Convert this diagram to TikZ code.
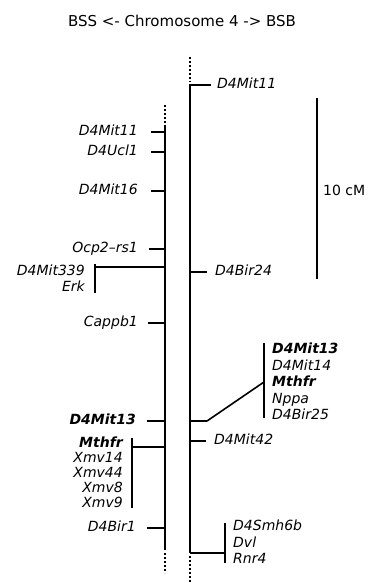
\documentclass[tikz,border=0pt]{standalone}
\usepackage{fontspec}
\setmainfont{DejaVu Sans}
\usetikzlibrary{positioning, calc}

\begin{document}
\begin{tikzpicture}[
    x=1pt, y=-1pt,
    chrom/.style={line width=1.7pt},
    cont/.style={line width=1.9pt, dash pattern=on 1.8pt off 2.2pt},
    tickline/.style={line width=1.6pt},
    locus/.style={inner sep=0pt, text height=0.73em, text depth=0pt, font=\fontsize{14}{16}\selectfont\itshape},
    lleft/.style={locus, anchor=east},
    lright/.style={locus, anchor=west}
]
\useasboundingbox (0,0) rectangle (371,583);

% TITLE
\node[font=\fontsize{15}{18}\selectfont] (title) at (182,21) {BSS <- Chromosome 4 -> BSB};

% CHROMOSOME BSS (left)
\coordinate (Ltop) at (165,127);
\coordinate (Lbot) at (165,550);
\coordinate (Lup) at (165,105);
\coordinate (Ldown) at (165,573);
\draw[chrom] (Ltop) -- (Lbot);
\draw[cont] (Lup) -- (Ltop);
\draw[cont] ([yshift=-3pt]Lbot) -- (Ldown);

\node[lleft] (lMit11) at (138,132) {D4Mit11};
\node[lleft] (lUcl1) at (138,152) {D4Ucl1};
\node[lleft] (lMit16) at (138,191) {D4Mit16};
\node[lleft] (lOcp2) at (138,249) {Ocp2–rs1};
\node[lleft] (lCappb1) at (138,323) {Cappb1};
\node[lleft, font=\fontsize{14}{16}\selectfont\bfseries\itshape] (lMit13) at (136,421) {D4Mit13};
\node[lleft] (lBir1) at (136,528) {D4Bir1};

\draw[tickline] ([xshift=13pt]lMit11.east) -- (lMit11.east -| Ltop);
\draw[tickline] ([xshift=13pt]lUcl1.east) -- (lUcl1.east -| Ltop);
\draw[tickline] ([xshift=13pt]lMit16.east) -- (lMit16.east -| Ltop);
\draw[tickline] ([xshift=11pt]lOcp2.east) -- (lOcp2.east -| Ltop);
\draw[tickline] ([xshift=10pt]lCappb1.east) -- (lCappb1.east -| Ltop);
\draw[tickline] ([xshift=11pt]lMit13.east) -- (lMit13.east -| Ltop);
\draw[tickline] ([xshift=11pt]lBir1.east) -- (lBir1.east -| Ltop);

% group D4Mit339 / Erk
\node[lleft] (lMit339) at (85,272) {D4Mit339};
\node[lleft] (lErk) at (85,288) {Erk};
\coordinate (gErkTop) at (95,264);
\coordinate (gErkBot) at (95,293);
\coordinate (gErkJ) at (95,267);
\draw[tickline] (gErkTop) -- (gErkBot);
\draw[tickline] (gErkJ) -- (gErkJ -| Ltop);

% group Mthfr / Xmv
\foreach \txt [count=\i] in {{\bfseries Mthfr}, Xmv14, Xmv44, Xmv8, Xmv9}
    \node[lleft] (lXmv-\i) at (123, {444+(\i-1)*15}) {\txt};
\coordinate (gXmvTop) at (132,438);
\coordinate (gXmvBot) at (132,508);
\coordinate (gXmvJ) at (132,447);
\draw[tickline] (gXmvTop) -- (gXmvBot);
\draw[tickline] (gXmvJ) -- (gXmvJ -| Ltop);

% CHROMOSOME BSB (right)
\coordinate (Rtop) at (190,84);
\coordinate (Rbot) at (190,553);
\coordinate (Rup) at (190,57);
\coordinate (Rdown) at (190,583);
\draw[chrom] (Rtop) -- (Rbot);
\draw[cont] (Rup) -- ([yshift=2pt]Rtop);
\draw[cont] ([yshift=-3pt]Rbot) -- (Rdown);

\node[lright] (rMit11) at (217,85) {D4Mit11};
\node[lright] (rBir24) at (215,272) {D4Bir24};
\node[lright] (rMit42) at (214,441) {D4Mit42};

\draw[tickline] (rMit11.west -| Rtop) -- ([xshift=-6pt]rMit11.west);
\draw[tickline] (rBir24.west -| Rtop) -- ([xshift=-8pt]rBir24.west);
\draw[tickline] (rMit42.west -| Rtop) -- ([xshift=-8pt]rMit42.west);

% group D4Mit13 ... D4Bir25
\foreach \txt [count=\i] in {{\bfseries D4Mit13}, D4Mit14, {\bfseries Mthfr}, Nppa, D4Bir25}
    \node[lright] (rMit-\i) at (272, {350+(\i-1)*16.5}) {\txt};
\coordinate (gMitTop) at (264,343);
\coordinate (gMitBot) at (264,418);
\coordinate (gMitJ) at (264,382);
\coordinate (gMitK) at (207,421);
\draw[tickline] (gMitTop) -- (gMitBot);
\draw[tickline, line join=round] (gMitJ) -- (gMitK) -- (gMitK -| Rtop);

% group D4Smh6b / Dvl / Rnr4
\foreach \txt [count=\i] in {D4Smh6b, Dvl, Rnr4}
    \node[lright] (rSmh-\i) at (233, {527+(\i-1)*16.5}) {\txt};
\coordinate (gSmhTop) at (225,523);
\coordinate (gSmhBot) at (225,563);
\coordinate (gSmhJ) at (225,553);
\draw[tickline] (gSmhTop) -- (gSmhBot);
\draw[tickline] (gSmhJ) -- (Rbot);

% SCALE
\coordinate (sTop) at (317,98);
\coordinate (sBot) at (317,279);
\draw[chrom] (sTop) -- (sBot);
\node[anchor=west, inner sep=0pt, font=\fontsize{14}{16}\selectfont] (scale) at (323,190) {10 cM};

\end{tikzpicture}
\end{document}
